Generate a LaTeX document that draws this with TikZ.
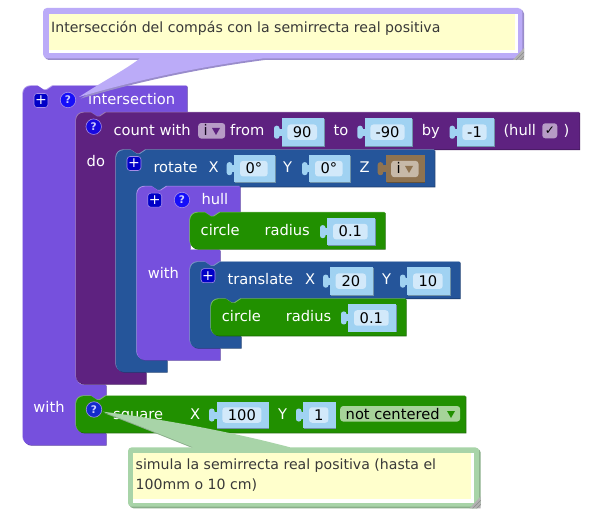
\documentclass[tikz,border=0pt]{standalone}
\usepackage{fontspec}
\usepackage{xcolor}
\setmainfont{DejaVu Sans}
\definecolor{MainPurple}{HTML}{7650DD}
\definecolor{LoopPurple}{HTML}{5E2280}
\definecolor{MoveBlue}{HTML}{25559A}
\definecolor{ShapeGreen}{HTML}{219000}
\definecolor{VarBrown}{HTML}{8F7350}
\definecolor{SlotBlue}{HTML}{A0D2F2}
\definecolor{FieldBlue}{HTML}{D2E9FA}
\definecolor{NoteYellow}{HTML}{FFFFCC}
\definecolor{NotePurple}{HTML}{BBABF8}
\definecolor{NoteGreen}{HTML}{A8D4A8}
% corners and notches of a block outline
\newcommand{\rnw}[2]{-- (#1,{#2+8}) .. controls (#1,{#2+3.6}) and ({#1+3.6},#2) .. ({#1+8},#2)}
\newcommand{\rsw}[2]{-- ({#1+8},#2) .. controls ({#1+3.6},#2) and (#1,{#2-3.6}) .. (#1,{#2-8})}
\newcommand{\inw}[2]{-- ({#1+8},#2) .. controls ({#1+3.6},#2) and (#1,{#2+3.6}) .. (#1,{#2+8})}
\newcommand{\isw}[2]{-- (#1,{#2-8}) .. controls (#1,{#2-3.6}) and ({#1+3.6},#2) .. ({#1+8},#2)}
\newcommand{\notch}[2]{-- ({#1+15},#2) -- ++(6,4) -- ++(3,0) -- ++(6,-4)}
\newcommand{\tabback}[2]{-- ({#1+30},#2) -- ++(-6,4) -- ++(-3,0) -- ++(-6,-4)}
% colour, path
\newcommand{\block}[2]{
    \fill[#1!70!black,shift={(.7,.7)}] #2;
    \fill[#1!60!white,shift={(-.7,-.7)}] #2;
    \fill[#1] #2;
}
% colour, x0, y0, x1, y1
\newcommand{\plainblock}[5]{
    \block{#1}{(#2,{#3+8}) \rnw{#2}{#3} \notch{#2}{#3} -- (#4,#3) -- (#4,#5) \rsw{#2}{#5} -- cycle}
}
% colour, x0, y0, x1, y1, mouth x, y2, bar x, y3
\newcommand{\mouthblock}[9]{
    \block{#1}{(#2,{#3+8}) \rnw{#2}{#3} \notch{#2}{#3} -- (#4,#3) -- (#4,#5) \tabback{#6}{#5} \inw{#6}{#5} \isw{#6}{#7} -- (#8,#7) -- (#8,#9) \rsw{#2}{#9} -- cycle}
}
% colour, tab x, rect x0, rect y middle
\newcommand{\puzzletab}[4]{
    \fill[#1,rounded corners=2.5] (#2,{#4-6.5}) rectangle ({#2+5.5},{#4+6.5});
    \fill[#1] ({#2+4},{#4-3.5}) rectangle ({#3+1},{#4+3.5});
}
% name, tab x, rect x0, rect x1, y0, y1, text
\newcommand{\slotbox}[7]{
    \fill[SlotBlue!70!black,shift={(.7,.7)}] (#3,#5) rectangle (#4,#6);
    \fill[SlotBlue] (#3,#5) rectangle (#4,#6);
    \puzzletab{SlotBlue}{#2}{#3}{(#5+#6)/2}
    \node[slotfield,minimum width={(#4-#3-13)*1pt}] (#1) at ({#3+5.5},{(#5+#6)/2}) {#7};
}
% colour, tip x, tip y
\newcommand{\pickarrow}[3]{
    \fill[#1] ({#2-4},{#3-3.5}) -- ({#2+4},{#3-3.5}) -- (#2,{#3+3.5}) -- cycle;
}
% colour, path
\newcommand{\noteblock}[2]{
    \fill[#1!82!black,shift={(1.6,1.6)}] #2;
    \fill[#1] #2;
}
% bottom right corner of a comment
\newcommand{\gripper}[2]{
    \fill[gray!60] (#1,{#2-12}) -- (#1,#2) -- ({#1-11},#2) -- cycle;
    \draw[gray!90,line width=.6pt] (#1,{#2-8}) -- ({#1-8},#2) (#1,{#2-4}) -- ({#1-4},#2);
}
\tikzset{
    lbl/.style={anchor=base west,inner sep=0pt,text=white,font=\fontsize{14.67}{17}\selectfont},
    slotfield/.style={anchor=west,inner sep=0pt,fill=FieldBlue,rounded corners=3,minimum height=15.5pt,
        text=black,font=\fontsize{14.67}{17}\selectfont},
    pick/.style={anchor=west,inner sep=0pt,rounded corners=3,minimum height=15.5pt,
        text=black,font=\fontsize{14.67}{17}\selectfont},
    plus/.style={inner sep=0pt,minimum size=14pt,rounded corners=3,fill=blue!78!black,draw=MainPurple!65!white,
        line width=.6pt,text=white,font=\fontsize{14}{14}\selectfont},
    help/.style={circle,inner sep=0pt,minimum size=15.5pt,fill=blue!82!MainPurple,draw=MainPurple!65!white,
        line width=.6pt,text=white!80!blue,font=\fontsize{10.5}{11}\bfseries\selectfont},
    note/.style={anchor=north west,inner sep=0pt,text=black!78,align=left,
        font=\fontsize{14.1}{20}\selectfont},
}

\begin{document}
\begin{tikzpicture}[x=1pt,y=-1pt]
    \useasboundingbox[fill=white] (0,0) rectangle (590,524);

    % outer block with its two mouths
    \block{MainPurple}{(23,94) \rnw{23}{86} \notch{23}{86} -- (187,86) -- (187,112) \tabback{76}{112} \inw{76}{112} \isw{76}{385} -- (106,385) -- (106,396) \tabback{76}{396} \inw{76}{396} \isw{76}{433} -- (106,433) -- (106,445) \rsw{23}{445} -- cycle}
    \node[plus] (introplus) at (41,100.5) {+};
    \node[help] (introhelp) at (68,100) {?};
    \node[lbl] (introname) at (88,105) {intersection};
    \node[lbl] (introwith) at (33.3,413) {with};

    % loop
    \mouthblock{LoopPurple}{76}{112.5}{579.5}{149.5}{116}{372}{146}{384}
    \node[help,fill=blue!75!LoopPurple] (loophelp) at (93.7,126.7) {?};
    \node[lbl] (loopname) at (113.3,135.5) {count with};
    \node[lbl] (loopdo) at (86.5,166.5) {do};
    \node[pick,fill=LoopPurple!45!white,minimum width=27pt] (loopvar) at (198,130.8) {};
    \node[lbl,text=black!75!LoopPurple] (loopvarname) at (203.5,135.5) {i};
    \pickarrow{LoopPurple}{216}{131.5}
    \node[lbl] (loopfrom) at (230,135.5) {from};
    \slotbox{loopa}{274}{281.7}{324.3}{118.5}{146}{90}
    \node[lbl] (loopto) at (333.3,135.5) {to};
    \slotbox{loopb}{357.3}{364.7}{412}{118.5}{146}{-90}
    \node[lbl] (loopby) at (421.7,135.5) {by};
    \slotbox{loopc}{449.5}{456.7}{494}{118.5}{146}{-1}
    \node[lbl] (loophull) at (503.3,135.5) {(hull};
    \node[pick,anchor=center,fill=LoopPurple!45!white,minimum width=15pt,minimum height=15pt] (loopcheck) at (549.8,130.8) {\fontsize{12}{12}\selectfont ✓};
    \node[lbl] (loopclose) at (563.3,135.5) {)};

    % rotate
    \mouthblock{MoveBlue}{116}{150}{434.7}{186.7}{137}{360}{167}{372}
    \node[plus] (rotplus) at (134,163.5) {+};
    \node[lbl] (rotname) at (153.3,173) {rotate};
    \node[lbl] (rotx) at (208.3,173) {X};
    \slotbox{rota}{226.7}{234.3}{275}{155}{182.3}{0°}
    \node[lbl] (roty) at (283,173) {Y};
    \slotbox{rotb}{302}{309.3}{350}{155}{182.3}{0°}
    \node[lbl] (rotz) at (359.3,173) {Z};
    \fill[VarBrown!70!black,shift={(.7,.7)}] (386,155) rectangle (424.7,182.3);
    \fill[VarBrown] (386,155) rectangle (424.7,182.3);
    \puzzletab{VarBrown}{377.7}{386}{168.7}
    \node[pick,fill=VarBrown!50!white,minimum width=27.3pt,minimum height=16.3pt] (rotvar) at (391,169) {};
    \node[lbl,text=black] (rotvarname) at (396.5,173.5) {i};
    \pickarrow{VarBrown}{409}{169.5}

    % hull with two mouths
    \block{MainPurple}{(137,194.5) \rnw{137}{186.5} \notch{137}{186.5} -- (240,186.5) -- (240,212) \tabback{190}{212} \inw{190}{212} -- (190,250) -- (220,250) -- (220,262) \tabback{190}{262} \inw{190}{262} \isw{190}{348} -- (220,348) -- (220,360) \rsw{137}{360} -- cycle}
    \node[plus] (hullplus) at (154.7,200.2) {+};
    \node[help] (hullhelp) at (182,200) {?};
    \node[lbl] (hullname) at (201.3,205) {hull};
    \node[lbl] (hullwith) at (147.7,279) {with};

    % first circle
    \plainblock{ShapeGreen}{190}{212.5}{385}{249}
    \node[lbl] (circa) at (200.5,235.7) {circle};
    \node[lbl] (circaradius) at (264.3,235.7) {radius};
    \slotbox{circaval}{320}{327.3}{375}{218.3}{245}{0.1}

    % translate
    \mouthblock{MoveBlue}{190}{262}{460}{298.5}{211}{336}{241}{348}
    \node[plus] (tranplus) at (208,275.7) {+};
    \node[lbl] (tranname) at (227.3,285) {translate};
    \node[lbl] (tranx) at (305,285) {X};
    \slotbox{trana}{323}{330}{373.3}{267.3}{295}{20}
    \node[lbl] (trany) at (382,285) {Y};
    \slotbox{tranb}{400}{407.3}{450}{267.3}{295}{10}

    % second circle
    \plainblock{ShapeGreen}{211}{299}{406}{335.7}
    \node[lbl] (circb) at (221.7,321.7) {circle};
    \node[lbl] (circbradius) at (285.7,321.7) {radius};
    \slotbox{circbval}{341}{348.3}{396}{304.3}{331.7}{0.1}

    % square
    \plainblock{ShapeGreen}{76}{396}{465.7}{432.7}
    \node[help,fill=blue!50!MoveBlue] (squarehelp) at (94,409.5) {?};
    \node[lbl] (squarename) at (113,419) {square};
    \node[lbl] (squarex) at (190,419) {X};
    \slotbox{squarea}{209}{216.7}{268.7}{401.7}{428.3}{100}
    \node[lbl] (squarey) at (278,419) {Y};
    \slotbox{squareb}{296}{303.3}{335.7}{401.7}{428.3}{1}
    \node[pick,fill=ShapeGreen!40!white,minimum width=120pt] (squarepick) at (340,413.8) {};
    \node[lbl,text=black] (squarepickname) at (345.5,419) {not centered};
    \pickarrow{ShapeGreen}{451}{414.5}

    % comment above
    \noteblock{NotePurple}{(43,12) .. controls (43,9.5) and (45,8) .. (47,8) -- (518,8) .. controls (520.5,8) and (522.4,9.5) .. (522.4,12) -- (522.4,54) .. controls (522.4,56.5) and (520.5,58.4) .. (518,58.4) -- (263,58.4) .. controls (190,68) and (130,82) .. (79,97) .. controls (100,83) and (125,70) .. (140,58.4) -- (47,58.4) .. controls (45,58.4) and (43,56.5) .. (43,54) -- cycle}
    \fill[white] (49.3,14) rectangle (518,53);
    \fill[NoteYellow] (49.3,14) rectangle (515,50);
    \node[note] (notetop) at (51,21) {Intersección del compás con la semirrecta real positiva};
    \gripper{524}{60}

    % comment below
    \noteblock{NoteGreen}{(128,451) .. controls (128,449) and (129.5,447.3) .. (132,447.3) -- (193,447.3) .. controls (165,436) and (135,424) .. (103,411.7) .. controls (170,420) and (240,434) .. (290,447.3) -- (475,447.3) .. controls (477.5,447.3) and (479.1,449) .. (479.1,451) -- (479.1,503) .. controls (479.1,505) and (477.5,506.7) .. (475,506.7) -- (132,506.7) .. controls (129.5,506.7) and (128,505) .. (128,503) -- cycle}
    \fill[white] (133.3,453.3) rectangle (474,502.7);
    \fill[NoteYellow] (133.3,453.3) rectangle (471,499.3);
    \node[note] (notebottom) at (135.5,458.7) {simula la semirrecta real positiva (hasta el\\100mm o 10 cm)};
    \gripper{480.7}{508.3}
\end{tikzpicture}
\end{document}
